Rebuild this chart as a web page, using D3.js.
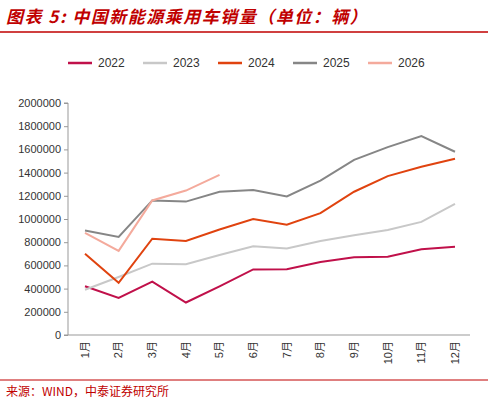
<!DOCTYPE html>
<html><head><meta charset="utf-8">
<script src="https://cdn.jsdelivr.net/npm/d3@7"></script>
<style>body{margin:0;background:#fff}</style>
</head><body><svg id="c" width="488" height="405"></svg>
<script>
var months = ["1月","2月","3月","4月","5月","6月","7月","8月","9月","10月","11月","12月"];
var s2022 = [420000,320000,460000,280000,420000,565000,567000,630000,670000,675000,740000,760000];
var s2023 = [390000,500000,615000,610000,690000,765000,745000,810000,860000,905000,975000,1130000];
var s2024 = [700000,450000,830000,810000,910000,1000000,950000,1050000,1235000,1370000,1450000,1520000];
var s2025 = [900000,845000,1160000,1150000,1235000,1250000,1195000,1330000,1510000,1620000,1715000,1580000];
var s2026 = [880000,725000,1160000,1245000,1380000];
var yTicks = [0,200000,400000,600000,800000,1000000,1200000,1400000,1600000,1800000,2000000];

var series = [
  {name:"2022", values:s2022, color:"#c0104a"},
  {name:"2023", values:s2023, color:"#c8c8c8"},
  {name:"2024", values:s2024, color:"#e0430f"},
  {name:"2025", values:s2025, color:"#868686"},
  {name:"2026", values:s2026, color:"#f4aa9c"}
];

var svg = d3.select("#c");
var font = "Arial, 'Liberation Sans', 'Noto Sans CJK SC', sans-serif";

svg.append("text").attr("x",6).attr("y",23).attr("fill","#c00000")
  .attr("font-family","'Noto Sans CJK SC'").attr("font-size",17).attr("font-weight","bold")
  .attr("font-style","italic").attr("letter-spacing",1.5).text("图表 5:  中国新能源乘用车销量（单位：辆）");
svg.append("line").attr("x1",0).attr("x2",488).attr("y1",32).attr("y2",32).attr("stroke","#c00000").attr("stroke-width",1.5);

var x = d3.scalePoint().domain(months).range([85,455]);
var y = d3.scaleLinear().domain([0,2000000]).range([335,103]);

var ya = svg.append("g").attr("transform","translate(68,0)")
  .call(d3.axisLeft(y).tickValues(yTicks).tickSize(4).tickFormat(d3.format("d")));
ya.selectAll("text").attr("font-family",font).attr("font-size",11).attr("fill","#333");
ya.selectAll("line,path").attr("stroke","#999");
ya.select("path").attr("d","M-4,103H0V335H-4");

var xa = svg.append("g").attr("transform","translate(0,335)")
  .call(d3.axisBottom(x).tickSize(0));
xa.select("path").attr("stroke","#999").attr("d","M68,0H470");
xa.selectAll("text").attr("font-family",font).attr("font-size",11).attr("fill","#333")
  .attr("text-anchor","end").attr("dx","-6").attr("dy","0.35em").attr("x",0).attr("y",0)
  .attr("transform",function(d){return "translate("+x(d)+",0) rotate(-90)";});
xa.selectAll(".tick").attr("transform",null);

var line = d3.line().x(function(d,i){return x(months[i]);}).y(function(d){return y(d);});
series.forEach(function(s){
  svg.append("path").datum(s.values).attr("d",line).attr("fill","none")
    .attr("stroke",s.color).attr("stroke-width",2);
});

var lg = svg.append("g");
series.forEach(function(s,i){
  var lx = 68 + i*75;
  lg.append("line").attr("x1",lx).attr("x2",lx+24).attr("y1",63).attr("y2",63).attr("stroke",s.color).attr("stroke-width",2.5);
  lg.append("text").attr("x",lx+30).attr("y",67).attr("font-family",font).attr("font-size",12).attr("fill","#333").text(s.name);
});

svg.append("line").attr("x1",0).attr("x2",488).attr("y1",380).attr("y2",380).attr("stroke","#c00000").attr("stroke-width",1);
svg.append("text").attr("x",6).attr("y",396).attr("fill","#c00000")
  .attr("font-family","'Noto Sans CJK SC'").attr("font-size",12).text("来源：WIND，中泰证券研究所");
</script></body></html>
